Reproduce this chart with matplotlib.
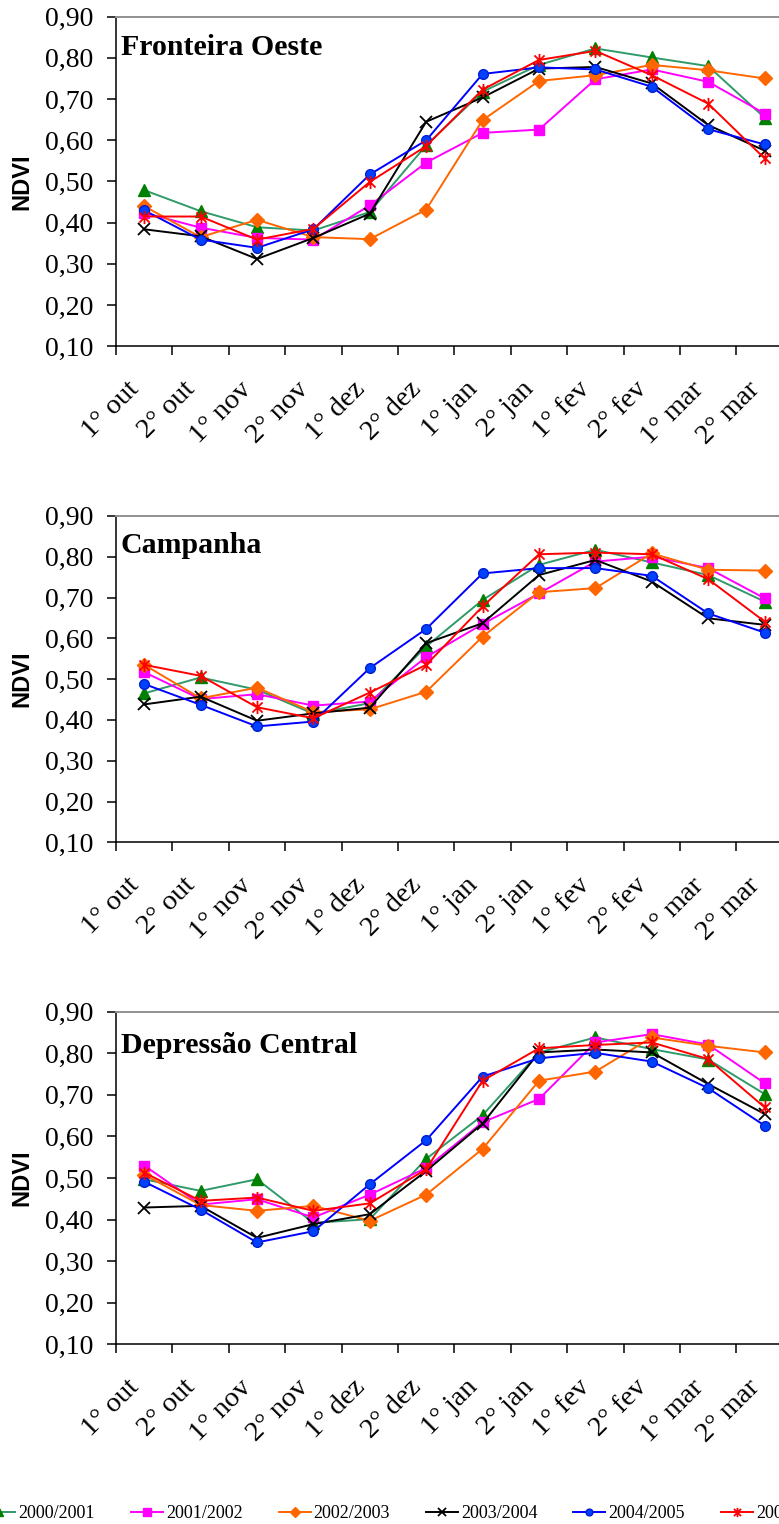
import matplotlib
matplotlib.use("Agg")
import matplotlib.pyplot as plt
from matplotlib.path import Path
from matplotlib.ticker import FixedLocator
from matplotlib.transforms import ScaledTranslation


# categories (decendios, Oct-Mar)
periods = ["1° out", "2° out", "1° nov", "2° nov", "1° dez", "2° dez",
           "1° jan", "2° jan", "1° fev", "2° fev", "1° mar", "2° mar"]
seasons = ["2000/2001", "2001/2002", "2002/2003", "2003/2004", "2004/2005", "2005/2006"]
y_ticks = [0.10, 0.20, 0.30, 0.40, 0.50, 0.60, 0.70, 0.80, 0.90]

# NDVI - Fronteira Oeste
fo_2000 = [0.479, 0.428, 0.389, 0.381, 0.426, 0.588, 0.718, 0.783, 0.823, 0.801, 0.780, 0.655]
fo_2001 = [0.424, 0.388, 0.363, 0.359, 0.442, 0.546, 0.618, 0.626, 0.748, 0.772, 0.742, 0.665]
fo_2002 = [0.440, 0.365, 0.407, 0.365, 0.360, 0.432, 0.649, 0.744, 0.758, 0.783, 0.770, 0.750]
fo_2003 = [0.384, 0.367, 0.312, 0.363, 0.422, 0.645, 0.704, 0.774, 0.778, 0.738, 0.637, 0.575]
fo_2004 = [0.430, 0.359, 0.339, 0.384, 0.517, 0.600, 0.761, 0.777, 0.772, 0.730, 0.627, 0.590]
fo_2005 = [0.415, 0.415, 0.359, 0.385, 0.499, 0.586, 0.723, 0.795, 0.817, 0.758, 0.689, 0.556]

# NDVI - Campanha
ca_2000 = [0.465, 0.504, 0.474, 0.415, 0.441, 0.580, 0.694, 0.780, 0.817, 0.786, 0.755, 0.690]
ca_2001 = [0.517, 0.451, 0.463, 0.435, 0.445, 0.554, 0.635, 0.710, 0.788, 0.800, 0.772, 0.698]
ca_2002 = [0.535, 0.453, 0.479, 0.419, 0.426, 0.469, 0.604, 0.713, 0.723, 0.808, 0.768, 0.766]
ca_2003 = [0.438, 0.457, 0.398, 0.416, 0.430, 0.588, 0.637, 0.755, 0.792, 0.739, 0.649, 0.633]
ca_2004 = [0.488, 0.437, 0.384, 0.396, 0.527, 0.623, 0.759, 0.772, 0.772, 0.753, 0.661, 0.614]
ca_2005 = [0.535, 0.508, 0.431, 0.404, 0.467, 0.535, 0.678, 0.806, 0.810, 0.806, 0.745, 0.641]

# NDVI - Depressao Central
dc_2000 = [0.497, 0.469, 0.497, 0.392, 0.401, 0.546, 0.651, 0.802, 0.838, 0.810, 0.785, 0.702]
dc_2001 = [0.530, 0.436, 0.449, 0.405, 0.460, 0.524, 0.634, 0.690, 0.826, 0.846, 0.821, 0.728]
dc_2002 = [0.508, 0.435, 0.421, 0.433, 0.397, 0.460, 0.570, 0.734, 0.756, 0.838, 0.818, 0.802]
dc_2003 = [0.429, 0.433, 0.356, 0.389, 0.413, 0.517, 0.631, 0.802, 0.809, 0.802, 0.726, 0.654]
dc_2004 = [0.491, 0.424, 0.345, 0.372, 0.485, 0.591, 0.744, 0.788, 0.801, 0.780, 0.716, 0.626]
dc_2005 = [0.513, 0.445, 0.453, 0.421, 0.439, 0.521, 0.734, 0.812, 0.820, 0.826, 0.786, 0.670]

regions = ["Fronteira Oeste", "Campanha", "Depressão Central"]
region_data = [
    [fo_2000, fo_2001, fo_2002, fo_2003, fo_2004, fo_2005],
    [ca_2000, ca_2001, ca_2002, ca_2003, ca_2004, ca_2005],
    [dc_2000, dc_2001, dc_2002, dc_2003, dc_2004, dc_2005],
]

# excel-like star: an x with a vertical bar
star = Path([(-1, -1), (1, 1), (-1, 1), (1, -1), (0, -1.3), (0, 1.3)],
            [Path.MOVETO, Path.LINETO] * 3)

styles = [
    dict(color="#2f9a6a", marker="^", ms=8.5, mfc="#008000", mec="#008000"),
    dict(color="#ff00ff", marker="s", ms=7.3, mfc="#ff00ff", mec="#ff00ff"),
    dict(color="#ff6600", marker="D", ms=7.6, mfc="#ff6600", mec="#ff6600"),
    dict(color="#000000", marker="x", ms=8.0, mew=1.3),
    dict(color="#0000ff", marker="o", ms=7.0, mfc="#0040ff", mec="#0020d0"),
    dict(color="#ff0000", marker=star, ms=9.5, mew=1.3),
]

# axes boxes in pixels: (top, bottom) of the 0.90 / 0.10 lines
boxes = [(16.7, 346.3), (515.9, 842.3), (1011.7, 1344.3)]
title_y = [0.884, 0.885, 0.877]

W, H = 779, 1524
LEFT, STEP = 116, 56.4

serif = "Liberation Serif"


def main():
    fig = plt.figure(figsize=(W / 100, H / 100), dpi=100)
    x = list(range(len(periods)))
    shift = ScaledTranslation(-9 / 100, 0, fig.dpi_scale_trans)

    handles = []
    for k, (top, bot) in enumerate(boxes):
        ax = fig.add_axes([LEFT / W, (H - bot) / H, STEP * 12 / W, (bot - top) / H])
        for series, st, lab in zip(region_data[k], styles, seasons):
            h, = ax.plot(x, series, lw=1.4, label=lab, clip_on=False, **st)
            if k == 0:
                handles.append(h)

        ax.set_xlim(-0.5, 11.5)
        ax.set_ylim(0.10, 0.90)
        ax.set_yticks(y_ticks)
        ax.set_yticklabels([("%.2f" % v).replace(".", ",") for v in y_ticks],
                           fontfamily=serif, fontsize=20)
        ax.set_xticks(x)
        ax.set_xticklabels(periods, rotation=45, ha="right", va="top",
                           fontfamily=serif, fontsize=20.5)
        for lab in ax.get_xticklabels():
            lab.set_transform(lab.get_transform() + shift)
        ax.xaxis.set_minor_locator(FixedLocator([i - 0.5 for i in range(13)]))
        ax.tick_params(axis="x", which="major", length=0, pad=22)
        ax.tick_params(axis="x", which="minor", length=6.5, width=1.1, direction="out")
        ax.tick_params(axis="y", length=6.5, width=1.1, direction="out", pad=10)

        ax.spines["right"].set_visible(False)
        ax.spines["top"].set_color("#909090")
        ax.spines["top"].set_linewidth(1.4)
        ax.spines["left"].set_linewidth(1.1)
        ax.spines["bottom"].set_linewidth(1.1)

        ax.set_ylabel("NDVI", fontfamily="Liberation Sans", fontweight="bold", fontsize=17)
        ax.yaxis.set_label_coords(-83 / (STEP * 12), 0.5)
        ax.text(0.007, title_y[k], regions[k], transform=ax.transAxes,
                fontfamily=serif, fontweight="bold", fontsize=21.5, va="baseline")

    fig.legend(handles=handles, loc="center left", bbox_to_anchor=(-16.5 / W, 10 / H),
               ncol=6, frameon=False, borderpad=0, borderaxespad=0,
               handlelength=1.77, handletextpad=0.17, columnspacing=1.99,
               markerscale=0.7, prop={"family": serif, "size": 13})

    fig.savefig("out.png", dpi=100)


if __name__ == "__main__":
    main()
